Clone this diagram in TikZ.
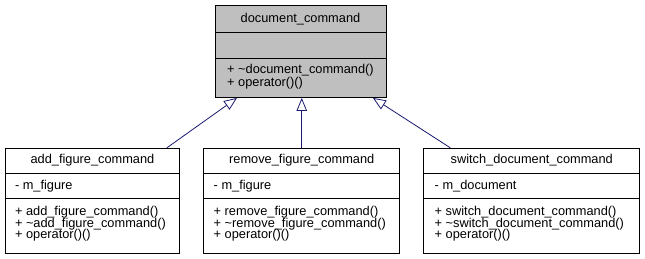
\documentclass[tikz,border=0pt]{standalone}
\usepackage{fontspec}
\setmainfont{Liberation Sans}
\usetikzlibrary{arrows.meta}
\definecolor{edgeblue}{RGB}{25,25,112}
\definecolor{basefill}{RGB}{191,191,191}
\begin{document}
\begin{tikzpicture}[x=1pt,y=-1pt,
  classbox/.style={draw=black, line width=0.9pt, rectangle, inner sep=0pt, anchor=north west},
  divider/.style={draw=black, line width=0.9pt},
  txt/.style={font=\fontsize{12.8}{12}\selectfont, inner sep=0pt},
  member/.style={txt, anchor=base west},
  inherit/.style={draw=edgeblue, line width=0.8pt, -{Triangle[open, length=13pt, width=10.5pt, line width=0.8pt]}}
]
\useasboundingbox (0,0) rectangle (645,259);

% ---- base class ----
\node[classbox, fill=basefill, minimum width=171pt, minimum height=92pt] (base) at (215,5) {};
\draw[divider] ([yshift=-27pt]base.north west) -- ([yshift=-27pt]base.north east);
\draw[divider] ([yshift=-53pt]base.north west) -- ([yshift=-53pt]base.north east);
\node[txt, anchor=base] (baseT) at (300.5,23) {document\_command};
\node[member] (baseM1) at (227,73.5) {+ \textasciitilde document\_command()};
\node[member] (baseM2) at (227,86.5) {+ operator()()};

% ---- derived classes ----
\node[classbox, minimum width=174pt, minimum height=105pt] (add) at (5,147.8) {};
\node[classbox, minimum width=196pt, minimum height=105pt] (rem) at (203.3,147.8) {};
\node[classbox, minimum width=216pt, minimum height=105pt] (sw) at (423.3,147.8) {};
\foreach \b in {add,rem,sw}{
  \draw[divider] ([yshift=-25.5pt]\b.north west) -- ([yshift=-25.5pt]\b.north east);
  \draw[divider] ([yshift=-50.5pt]\b.north west) -- ([yshift=-50.5pt]\b.north east);
}

\node[txt, anchor=base] (addT) at (add.north |- 0,163.3) {add\_figure\_command};
\node[member] (addA) at (14.8,189.2) {- m\_figure};
\node[member] (addM1) at (14.8,215.5) {+ add\_figure\_command()};
\node[member] (addM2) at (14.8,227) {+ \textasciitilde add\_figure\_command()};
\node[member] (addM3) at (14.8,238.5) {+ operator()()};

\node[txt, anchor=base] (remT) at (rem.north |- 0,163.3) {remove\_figure\_command};
\node[member] (remA) at (213.5,189.2) {- m\_figure};
\node[member] (remM1) at (213.5,215.5) {+ remove\_figure\_command()};
\node[member] (remM2) at (213.5,227) {+ \textasciitilde remove\_figure\_command()};
\node[member] (remM3) at (213.5,238.5) {+ operator()()};

\node[txt, anchor=base] (swT) at (sw.north |- 0,163.3) {switch\_document\_command};
\node[member] (swA) at (434.5,189.2) {- m\_document};
\node[member] (swM1) at (434.5,215.5) {+ switch\_document\_command()};
\node[member] (swM2) at (434.5,227) {+ \textasciitilde switch\_document\_command()};
\node[member] (swM3) at (434.5,238.5) {+ operator()()};

% ---- generalisation edges ----
\draw[inherit] ([xshift=-13pt]add.north east) -- ([xshift=22pt]base.south west);
\draw[inherit] (rem.north) -- (base.south -| rem.north);
\draw[inherit] ([xshift=27pt]sw.north west) -- ([xshift=-14pt]base.south east);
\end{tikzpicture}
\end{document}
